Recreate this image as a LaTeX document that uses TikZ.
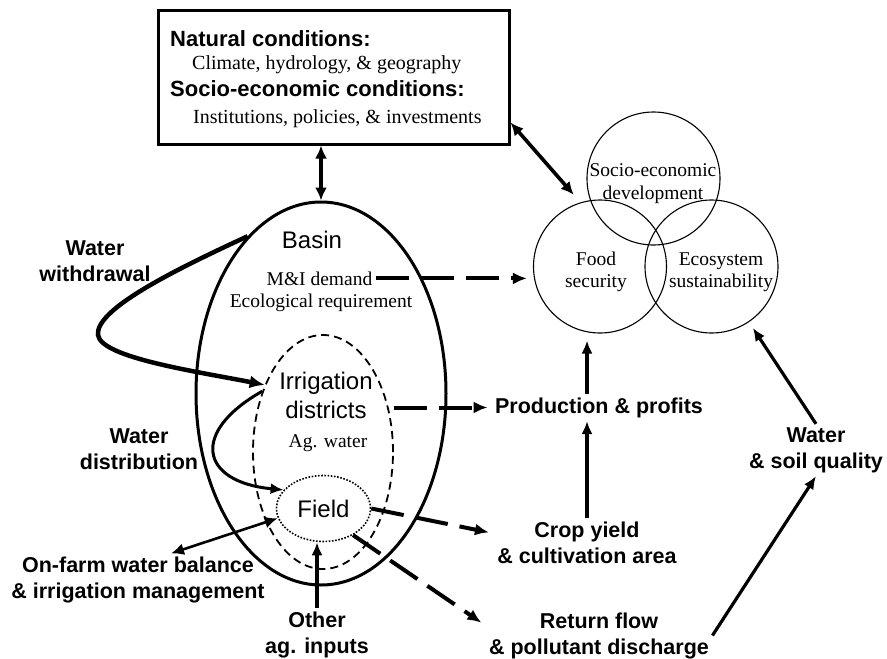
\documentclass[tikz,border=0pt]{standalone}
\usepackage{fontspec}
\setmainfont{Liberation Serif}
\setsansfont{Liberation Sans}
\usetikzlibrary{arrows.meta,shapes.geometric}

\begin{document}
\begin{tikzpicture}[x=1pt,y=-1pt,
boldlabel/.style={font=\fontsize{21.5}{26}\selectfont\sffamily\bfseries,align=center},
plainlabel/.style={font=\fontsize{24}{29}\selectfont\sffamily,align=center},
seriflabel/.style={font=\fontsize{19.5}{22.5}\selectfont\rmfamily,align=center},
boxtext/.style={anchor=base west,inner sep=0pt},
goal/.style={circle,draw,line width=1.1pt,minimum size=133pt,inner sep=0pt},
link/.style={line width=3.2pt,-{Latex[length=13pt,width=11pt]}},
twoway/.style={line width=3.6pt,{Latex[length=13pt,width=12pt]}-{Latex[length=13pt,width=12pt]}},
flow/.style={line width=4pt,dash pattern=on 33pt off 12pt,-{Latex[length=14pt,width=12pt]}}
]
\useasboundingbox (0,0) rectangle (887,659);

% The conditions box
\node[draw,line width=3pt,minimum width=351pt,minimum height=134pt,inner sep=0pt] (cond) at (333.5,77) {};
\node[boxtext,font=\fontsize{22}{26}\selectfont\sffamily\bfseries] (natcond) at (170,46) {Natural conditions:};
\node[boxtext,font=\fontsize{20}{24}\selectfont] (natdesc) at (192,69) {Climate, hydrology, \& geography};
\node[boxtext,font=\fontsize{22}{26}\selectfont\sffamily\bfseries] (soccond) at (170,96) {Socio-economic conditions:};
\node[boxtext,font=\fontsize{20}{24}\selectfont] (socdesc) at (193,123) {Institutions, policies, \& investments};

% The goals
\node[goal] (socdev) at (653.5,178.5) {};
\node[goal] (food) at (600,266.5) {};
\node[goal] (eco) at (711.5,266.5) {};
\node[seriflabel] (socdevtext) at (653,183.5) {Socio-economic\\development};
\node[seriflabel] (foodtext) at (596,272) {Food\\security};
\node[seriflabel] (ecotext) at (721,272) {Ecosystem\\sustainability};

% The nested levels
\node[ellipse,draw,line width=3pt,minimum width=250pt,minimum height=383pt] (basin) at (321,393.5) {};
\node[ellipse,draw,line width=1.8pt,dash pattern=on 8pt off 5pt,minimum width=140pt,minimum height=234pt] (irr) at (323,452) {};
\node[ellipse,draw,line width=1.6pt,dash pattern=on 1.6pt off 1.6pt,minimum width=94pt,minimum height=66pt,plainlabel] (field) at (323.5,508.5) {Field};
\node[plainlabel] (basinname) at (312,240.4) {Basin};
\node[seriflabel] (midemand) at (319.5,278.4) {M\&I demand};
\node[seriflabel] (ecoreq) at (321,302.5) {Ecological requirement};
\node[plainlabel] (irrname) at (326,395.7) {Irrigation\\districts};
\node[seriflabel] (agwater) at (328,443.6) {Ag. water};

% The labels
\node[boldlabel] (withdraw) at (95,261) {Water\\withdrawal};
\node[boldlabel] (distrib) at (139,449) {Water\\distribution};
\node[boldlabel] (onfarm) at (138,580) {On-farm water balance\\\& irrigation management};
\node[boldlabel] (other) at (317,634.5) {Other\\ag. inputs};
\node[boldlabel] (prod) at (599,407.5) {Production \& profits};
\node[boldlabel] (crop) at (587,542.4) {Crop yield\\\& cultivation area};
\node[boldlabel] (ret) at (599,635.5) {Return flow\\\& pollutant discharge};
\node[boldlabel] (soil) at (816,450) {Water\\\& soil quality};

% The arrows
\draw[twoway] (basin.north |- cond.south) -- (basin.north);
\draw[twoway,shorten >=10pt] ([yshift=23pt]cond.south east) -- (food.107);
\draw[flow,shorten >=6pt] (midemand.east) -- (midemand.east -| food.west);
\draw[line width=4.5pt,-{Latex[length=15pt,width=13pt]}] (basin.115) .. controls (170,272) and (95,310) .. (98,335)
  .. controls (101,358) and (200,372) .. (irr.131);
\draw[line width=3pt,-{Latex[length=13pt,width=11pt]}] (irr.135) .. controls (190,432) and (200,482) .. (field.155);
\draw[twoway,line width=2.6pt] ([xshift=33pt]onfarm.north) -- (field.192);
\draw[link] (other.north) -- (other.north |- field.south);
\draw[flow,shorten >=4pt] (prod.west -| irr.east) -- (prod.west);
\draw[flow,shorten >=5pt] (field.east) -- ([yshift=9pt]crop.west);
\draw[flow,shorten >=5pt] (field.-42) -- ([yshift=10pt]ret.west);
\draw[link] (crop.north) -- (crop.north |- prod.south);
\draw[link,shorten >=7pt] (crop.north |- prod.north) -- (crop.north |- food.south);
\draw[link] (ret.east) -- (soil.south);
\draw[link,shorten >=7pt] (soil.north) -- (eco.-56);
\end{tikzpicture}
\end{document}
